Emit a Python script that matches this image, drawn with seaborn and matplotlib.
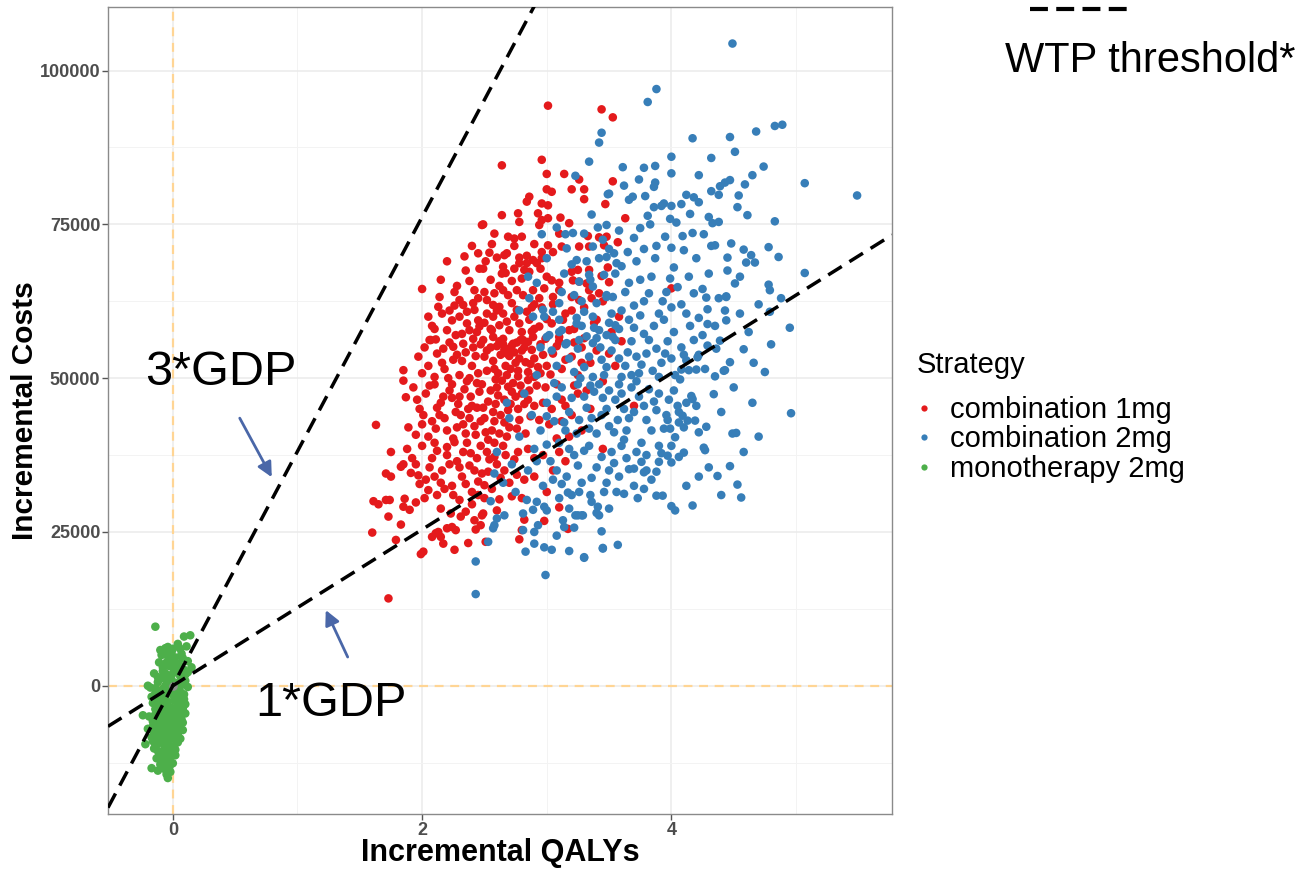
import matplotlib
matplotlib.use("Agg")
import matplotlib.pyplot as plt
import seaborn as sns
import pandas as pd
import numpy as np
from matplotlib.lines import Line2D

# ---------------- data (QALYs, incremental cost in thousands) ----------------
strategies = ["combination 1mg", "combination 2mg", "monotherapy 2mg"]
palette = ["#E41A1C", "#377EB8", "#4DAF4A"]

red_points = [
    (3.01,94.3),(3.44,93.7),(3.53,92.4),(2.64,84.6),(2.96,85.5),(3.0,83.2),(3.14,83.2),(3.53,82.0),
    (3.47,78.3),(3.63,76.0),(3.48,73.0),(3.57,72.1),(3.49,68.0),(3.44,66.6),(3.5,65.6),(4.0,64.6),
    (1.73,14.2),(1.63,42.4),(1.85,51.3),(1.85,49.6),(1.87,46.9),(1.75,38.0),(1.71,34.5),(1.75,34.0),
    (1.61,30.0),(1.65,29.5),(1.71,30.2),(1.74,30.2),(1.6,24.9),(1.73,27.5),(1.83,26.2),(1.79,23.7),
    (1.85,29.1),(1.9,28.6),(1.86,30.4),(1.83,35.6),(1.85,36.0),(1.91,34.6),(1.89,42.0),(1.99,21.4),
    (2.01,21.8),(2.26,22.1),(2.37,23.2),(2.51,23.4),(2.43,25.4),(2.42,26.9),(2.47,26.1),(2.49,28.0),
    (2.48,27.7),(2.78,23.8),(2.8,25.3),(2.82,27.0),(2.98,26.8),(2.08,24.2),(2.11,24.8),(2.15,24.2),
    (2.17,23.1),(2.13,25.0),(2.2,25.6),(2.24,25.8),(2.27,25.3),(2.31,27.5),(2.23,28.0),(3.17,25.5),
    (3.26,82.3),(3.2,80.7),(3.3,80.7),(3.0,80.7),(3.04,80.3),(2.86,79.5),(2.84,78.7),(2.96,78.4),
    (3.01,78.1),(3.3,79.1),(2.77,76.8),(2.93,76.8),(2.64,76.5),(2.96,75.7),(3.01,76.0),(3.11,76.1),
    (2.78,75.4),(2.49,75.0),(2.48,74.9),(2.58,73.5),(2.69,73.0),(2.74,72.7),(2.8,73.0),(2.74,71.5),
    (2.94,74.9),(3.18,75.2),(3.1,73.5),(3.01,71.6),(2.96,70.5),(3.05,70.5),(3.33,73.1),(3.42,72.9),
    (3.46,71.6),(3.34,71.4),(3.26,71.4),(3.12,71.4),(2.45,70.3),(2.54,70.4),(2.66,70.0),(2.68,70.3),
    (2.51,69.0),(2.6,69.6),(2.78,69.6),(2.84,69.9),(2.89,69.2),(2.96,69.5),(2.92,68.7),(2.84,68.7),
    (2.78,68.7),(2.74,67.8),(2.82,67.6),(2.86,67.3),(2.46,67.8),(2.49,67.8),(2.65,68.1),(2.67,67.1),
    (2.64,67.0),(3.04,65.9),(3.1,65.5),(3.2,67.3),(3.25,67.6),(3.34,67.6),(3.0,66.5),(2.98,64.6),
    (3.05,63.2),(3.1,64.3),(3.21,65.9),(3.26,65.7),(3.32,65.4),(3.34,64.3),(3.42,63.8),(3.26,62.7),
    (3.2,63.2),(2.42,64.3),(2.5,64.0),(2.58,63.8),(2.65,64.3),(2.69,63.5),(2.76,64.3),(2.81,63.5),
    (2.89,64.3),(2.94,63.0),(2.14,63.2),(2.13,61.6),(2.22,61.0),(2.07,56.2),(2.11,56.3),(2.3,62.7),
    (2.33,61.9),(2.42,61.1),(2.41,62.2),(2.52,62.7),(2.57,61.9),(2.62,61.6),(2.72,62.2),(2.76,61.1),
    (2.65,60.5),(2.57,60.0),(2.52,60.5),(2.45,59.4),(2.36,58.9),(2.3,60.0),(2.24,59.4),(2.2,57.8),
    (2.38,57.8),(2.46,58.4),(2.62,58.6),(2.7,57.8),(2.78,58.9),(2.86,59.5),(2.94,58.4),(3.04,58.9),
    (3.13,59.5),(3.18,57.8),(3.1,56.7),(2.99,56.4),(2.89,56.7),(2.81,56.2),(2.73,55.6),(2.65,56.4),
    (2.57,56.7),(2.49,56.2),(2.41,56.4),(2.33,55.6),(2.25,55.1),(2.17,54.8),(2.06,56.2),
    (1.97,53.5),(2.05,52.0),(2.12,54.0),(2.18,51.5),(2.25,53.0),(2.3,50.5),(2.35,54.2),(2.4,52.0),
    (2.45,50.8),(2.5,53.5),(2.55,55.0),(2.58,51.5),(2.63,53.8),(2.68,50.5),(2.72,55.3),(2.75,52.5),
    (2.8,54.5),(2.85,51.0),(2.9,53.2),(2.95,55.5),(3.0,52.0),(3.05,54.0),(3.12,51.5),(3.2,53.5),
    (3.28,55.0),(3.35,52.5),(2.62,56.0),(2.7,54.8),(2.76,55.8),(2.68,54.0),(2.85,55.9),(2.78,53.2),
    (2.57,52.8),(2.9,50.2),(2.22,55.8),(2.47,55.5),(2.1,50.2),(2.0,50.8),(2.6,55.2),(2.65,55.5),
    (2.74,54.2),(2.82,55.0),(2.88,54.6),(2.7,53.6),(2.66,54.6),(2.79,56.2),
    (1.93,48.5),(1.98,45.0),(2.03,47.5),(2.08,43.0),(2.1,49.0),(2.15,46.0),(2.2,41.5),(2.22,48.0),
    (2.27,44.5),(2.3,47.0),(2.33,42.5),(2.36,49.5),(2.4,45.5),(2.43,40.8),(2.46,47.8),(2.5,43.5),
    (2.53,46.2),(2.56,41.5),(2.6,48.5),(2.63,44.0),(2.66,46.5),(2.7,42.0),(2.73,49.2),(2.77,45.0),
    (2.8,47.5),(2.83,41.0),(2.87,43.8),(2.92,48.8),(2.97,46.0),(3.02,42.5),(3.08,49.0),(3.15,45.5),
    (3.25,47.5),(2.05,40.5),(2.14,44.0),(2.25,40.2),(2.38,43.5),(2.48,49.0),(2.58,43.0),(2.68,40.5),
    (2.75,47.0),(2.9,45.5),(2.0,42.5),(2.17,47.0),(2.29,45.8),(2.53,40.0),(2.85,49.7),(1.95,40.8),
    (1.88,38.5),(1.95,36.0),(2.0,39.0),(2.03,33.5),(2.08,37.0),(2.12,31.0),(2.16,35.0),(2.2,38.8),
    (2.24,32.5),(2.28,36.5),(2.32,34.0),(2.36,39.5),(2.4,31.5),(2.44,37.0),(2.48,34.5),(2.52,38.0),
    (2.56,32.0),(2.6,36.0),(2.65,39.0),(2.7,33.0),(2.74,36.8),(2.8,30.5),(2.85,38.5),(2.9,34.0),
    (2.97,37.5),(2.02,30.5),(2.1,34.0),(2.3,30.2),(2.45,31.0),(2.62,30.3),(2.18,32.0),(1.98,32.8),
    (3.05,62.0),(3.15,60.5),(3.22,58.0),(3.3,61.5),(3.38,59.0),(3.45,62.5),(3.52,57.5),(3.1,56.0),
    (3.25,50.5),(3.32,48.0),(3.4,54.5),(3.55,52.0),(3.2,44.0),(3.28,41.5),(3.1,38.0),(3.05,35.0),
    (3.18,40.5),(3.35,45.0),(3.45,49.5),(3.6,56.0),(3.58,60.0),(3.7,45.5),(3.45,38.5),
    (2.15,66.0),(2.28,65.0),(2.35,67.5),(2.55,66.0),(2.72,65.8),(2.9,62.0),(2.05,60.0),(2.0,64.5),
    (2.2,69.0),(2.4,71.5),(2.95,67.8),
    (2.02,55.0),(2.08,58.5),(2.16,52.5),(2.21,50.0),(2.27,57.0),(2.32,52.8),(2.38,50.0),(2.43,53.6),
    (2.52,51.2),(2.56,57.8),(2.61,50.8),(2.67,52.0),(2.71,51.5),(2.77,50.3),(2.83,52.6),(2.88,57.6),
    (2.93,51.8),(2.97,53.8),(3.03,50.6),(3.08,55.2),(3.15,53.0),(3.22,55.8),
    (1.96,46.5),(2.01,44.0),(2.06,48.8),(2.11,41.8),(2.18,43.5),(2.24,46.8),(2.28,42.0),(2.34,48.2),
    (2.37,45.0),(2.42,42.2),(2.44,49.2),(2.49,45.2),(2.55,48.0),(2.59,45.8),(2.62,41.0),(2.64,49.6),
    (2.69,44.8),(2.72,47.8),(2.78,43.2),(2.82,45.8),(2.86,48.0),(2.94,43.2),(2.99,48.5),(3.04,45.0),
    (3.12,43.0),(2.12,45.2),(2.35,41.0),(2.47,43.0),
    (1.92,37.0),(1.97,34.2),(2.06,35.5),(2.12,38.2),(2.15,33.0),(2.22,36.0),(2.26,39.6),(2.3,35.5),
    (2.35,32.8),(2.39,37.8),(2.42,35.0),(2.47,39.0),(2.5,32.6),(2.54,36.8),(2.58,39.5),(2.63,33.8),
    (2.67,37.5),(2.72,30.8),(2.77,38.0),(2.82,33.5),(2.05,31.8),(2.25,31.0),(2.4,29.5),(2.6,28.5),
    (2.15,28.8),(2.35,28.3),(1.95,29.8),(2.5,30.5),
    (2.1,58.0),(2.16,60.5),(2.26,61.8),(2.32,57.2),(2.36,60.8),(2.44,57.5),(2.5,59.0),(2.55,58.0),
    (2.6,61.0),(2.68,59.2),(2.74,60.0),(2.8,57.5),(2.84,60.8),(2.9,58.0),(2.96,61.5),(3.0,59.6),
    (2.26,64.0),(2.38,65.8),(2.45,63.0),(2.62,65.0),(2.8,66.2),(2.88,61.5),(2.34,69.8),(2.56,71.8),
    (2.9,71.8),
    (3.2,61.0),(3.3,56.5),(3.36,63.0),(3.12,46.5),(3.22,48.8),(3.08,40.2),(3.15,36.5),(3.0,31.5),
    (3.1,29.0),(3.4,59.5),(3.5,54.0),(3.28,52.5),
    (2.24,49.0),(2.31,44.0),(2.39,47.0),(2.44,45.2),(2.51,41.2),(2.57,44.5),(2.61,47.2),(2.66,42.8),
    (2.71,45.8),(2.76,41.8),(2.79,48.8),(2.85,46.5),(2.33,38.0),(2.38,35.8),(2.45,33.2),(2.53,34.8),
    (2.58,37.2),(2.66,35.0),(2.76,34.3),(2.9,37.0),(2.28,53.8),(2.41,55.0),(2.52,54.5),(2.59,49.8),
    (2.69,48.6),(2.77,51.2),(2.87,52.3),(2.95,50.8),(2.2,37.5),(2.1,39.5),
]

blue_points = [
    (4.49,104.4),(3.88,97.0),(3.81,94.9),(4.83,91.0),(4.89,91.2),(4.68,90.1),(4.47,89.2),(4.17,89.0),
    (4.51,86.8),(4.32,85.8),(4.0,86.0),(5.07,81.7),(5.49,79.7),(4.74,84.4),(4.65,83.0),(4.59,81.5),
    (4.47,82.2),(4.43,81.8),(4.39,81.2),(4.22,83.0),(3.87,84.5),(3.78,84.2),(3.61,84.3),(3.74,82.3),
    (3.62,81.3),(3.87,81.8),(3.86,81.1),(4.0,83.3),(4.32,80.4),(4.38,79.8),(4.54,79.7),(4.53,77.8),
    (4.61,76.5),(4.83,75.5),(4.12,79.8),(4.18,79.4),(4.22,78.6),(4.08,78.3),(4.15,76.7),(3.92,78.0),
    (3.94,78.4),(3.86,77.8),(4.0,78.0),(3.99,75.9),(4.04,75.3),(3.79,79.6),(3.69,79.5),(3.66,79.0),
    (3.5,80.0),(3.81,76.4),(3.83,75.0),(3.75,74.4),(4.3,76.2),(4.33,75.2),(4.38,75.4),(4.17,73.6),
    (4.26,73.4),(4.09,73.1),(4.48,71.9),(4.35,71.6),(4.32,71.5),(4.58,70.9),(4.64,70.0),(4.78,71.3),
    (4.6,68.8),(4.67,68.8),(4.45,69.6),(4.86,69.7),(5.07,67.1),(4.78,65.2),(4.79,64.3),(4.51,65.4),
    (4.44,63.3),(4.38,63.0),
    (4.95,58.2),(4.96,44.3),(4.75,51.0),(4.58,54.7),(4.79,60.8),(4.56,30.6),(4.53,32.7),(4.47,35.7),
    (4.37,34.1),(4.49,41.0),(4.52,41.1),(4.17,29.3),(4.03,28.5),(4.0,29.2),(4.27,38.3),(4.26,38.7),
    (4.22,41.2),(4.28,42.1),(4.34,47.4),(3.93,30.9),(3.88,30.9),(3.73,30.5),(3.62,31.2),(3.57,22.9),
    (3.45,22.4),(3.30,20.9),(3.18,21.9),(3.44,25.1),(3.22,25.7),(3.14,25.8),(3.42,27.7),(3.4,28.1),
    (3.28,27.7),(3.23,27.7),(3.8,35.0),(3.78,34.7),(3.76,36.4),(3.7,35.3),(3.9,36.4),(4.0,36.3),
    (3.97,37.4),(4.06,37.2),(4.1,37.9),(3.9,39.0),(4.0,39.0),(4.03,40.4),(3.99,41.8),(3.97,43.2),
    (4.13,43.1),(4.19,43.1),(4.09,43.9),(4.06,44.5),(4.05,45.5),(4.16,47.1),(4.17,46.6),(4.07,49.8),
    (4.21,53.4),(4.22,53.8),(4.27,51.5),(4.29,55.3),(4.36,54.8),(4.39,56.1),(4.43,51.3),(4.47,52.6),
    (4.42,51.2),(4.35,50.3),(4.44,59.4),(4.43,61.0),(4.29,61.2),(4.28,63.1),(4.44,63.2),(4.29,58.8),
    (4.12,52.9),(4.14,51.3),(4.2,51.4),(4.08,51.4),
    (2.43,14.9),(2.43,20.2),(2.99,18.0),(2.83,21.8),(2.9,23.1),(2.98,22.5),(3.04,22.1),(3.3,20.8),
    (3.45,22.3),(3.08,24.4),(2.53,23.4),(2.57,25.6),(2.58,26.1),(2.66,27.7),(2.6,27.2),(2.81,25.3),
    (2.9,25.0),(2.93,26.1),(2.81,28.0),(2.89,28.6),(2.92,29.9),(2.84,30.2),(3.25,27.7),(3.29,27.7),
    (3.13,26.9),(2.98,29.1),(3.1,30.5),(3.17,31.4),(3.26,31.5),(3.36,29.9),(3.41,29.1),
    (3.12,64.0),(3.2,68.5),(3.28,62.5),(3.35,66.0),(3.42,69.5),(3.48,63.5),(3.55,67.0),(3.6,61.0),
    (3.66,65.5),(3.72,69.0),(3.78,62.5),(3.84,66.5),(3.9,60.5),(3.96,64.0),(4.02,68.0),(4.08,62.0),
    (4.14,66.5),(4.2,69.5),(4.25,64.5),(3.52,60.5),(3.75,60.2),(4.0,61.5),(3.3,60.8),(3.65,70.5),
    (3.88,71.5),(3.45,72.5),(4.1,70.8),(3.58,74.0),(3.95,73.0),(3.3,73.5),(3.7,72.8),
    (3.02,57.0),(3.08,52.0),(3.15,55.5),(3.22,51.0),(3.28,58.5),(3.34,53.5),(3.4,56.5),(3.46,50.5),
    (3.52,54.5),(3.58,58.0),(3.63,52.0),(3.68,56.0),(3.74,50.8),(3.8,54.0),(3.86,58.5),(3.92,52.5),
    (3.97,56.0),(4.03,50.5),(4.08,55.0),(4.15,58.5),(3.25,54.8),(3.5,59.0),(3.72,53.5),(3.94,59.5),
    (3.6,50.2),(3.37,50.2),(3.85,51.2),(4.25,57.0),(3.44,53.0),(3.66,59.5),(3.1,59.5),(3.55,56.2),
    (3.78,57.2),(4.0,53.2),
    (2.95,41.5),(3.0,46.0),(3.06,43.0),(3.12,48.5),(3.18,44.5),(3.24,41.0),(3.3,47.0),(3.36,43.5),
    (3.42,49.0),(3.48,45.0),(3.54,41.2),(3.6,47.5),(3.66,43.5),(3.72,49.5),(3.78,45.5),(3.84,41.5),
    (3.9,47.5),(3.96,44.0),(4.02,48.0),(4.1,42.0),(4.2,45.5),(3.27,50.0),(3.5,48.0),(3.74,47.0),
    (3.88,44.8),(3.4,41.0),(3.62,45.0),(3.15,41.5),(3.57,43.2),(3.32,45.2),(3.06,49.2),
    (2.85,35.0),(2.9,38.5),(2.97,32.5),(3.03,36.5),(3.1,39.5),(3.16,34.0),(3.22,37.5),(3.28,33.0),
    (3.34,39.0),(3.4,35.5),(3.46,31.5),(3.52,38.0),(3.58,34.0),(3.64,37.0),(3.7,32.5),(3.76,39.5),
    (3.84,33.5),(3.92,37.8),(3.5,35.0),(3.2,31.0),(3.05,33.5),(3.62,40.0),
    (2.65,33.0),(2.72,36.0),(2.78,40.5),(2.7,43.5),(2.6,38.0),(2.55,30.0),(2.75,31.5),(2.88,44.0),
    (2.82,47.5),(2.92,50.5),(2.95,55.0),(2.98,60.0),(2.86,63.0),(2.78,61.0),(2.92,65.5),(3.0,69.5),
    (2.58,34.5),(2.68,46.0),
    (3.44,89.9),(3.42,88.3),(3.34,85.2),(3.23,82.9),(3.49,79.9),(3.36,76.6),(3.41,74.5),(3.48,74.9),
    (3.08,74.5),(2.96,73.4),(3.15,73.4),(3.21,73.6),(3.16,71.1),(3.24,69.2),(3.37,71.4),(3.48,69.7),
    (3.54,70.3),(3.56,68.7),(2.85,66.5),(3.26,65.7),(3.34,66.8),(3.37,64.9),(3.48,63.2),(3.1,62.2),
    (2.97,61.1),(2.89,60.0),(3.0,56.7),(3.1,57.5),(3.24,58.9),(3.37,60.0),(3.42,57.8),(3.53,56.7),
    (3.16,55.7),(3.26,56.2),(3.37,55.7),
    (4.55,66.5),(4.7,62.0),(4.62,57.5),(4.5,48.5),(4.65,46.0),(4.8,55.5),(4.4,44.5),(4.58,38.0),
    (4.7,40.5),(4.45,67.5),(4.35,58.5),(4.55,60.5),(4.88,63.0),(4.66,52.5),(4.3,35.5),(4.12,32.5),
    (4.22,34.0),(4.4,31.0),
    (3.05,60.8),(3.14,67.0),(3.22,63.5),(3.32,69.0),(3.4,62.2),(3.46,66.8),(3.53,63.2),(3.6,68.2),
    (3.63,64.0),(3.7,61.8),(3.75,66.0),(3.82,63.8),(3.87,69.5),(3.93,62.5),(3.99,66.2),(4.05,64.8),
    (4.12,60.5),(4.18,63.8),(4.3,67.0),(3.78,71.0),(4.0,71.2),(3.5,71.0),
    (3.04,54.5),(3.12,57.8),(3.18,53.2),(3.3,51.8),(3.32,56.8),(3.38,58.2),(3.43,55.0),(3.48,51.8),
    (3.55,58.6),(3.58,53.2),(3.65,54.2),(3.7,58.2),(3.76,52.2),(3.82,56.2),(3.88,54.8),(3.9,50.2),
    (3.95,54.0),(4.02,57.5),(4.1,53.8),(4.18,56.2),(4.22,59.8),(3.68,50.5),(3.48,57.0),(3.24,59.8),
    (3.0,43.8),(3.08,47.0),(3.14,42.8),(3.2,46.8),(3.26,43.2),(3.34,41.8),(3.38,47.8),(3.44,44.0),
    (3.5,42.2),(3.55,46.5),(3.64,41.5),(3.68,48.5),(3.7,44.5),(3.8,43.2),(3.82,48.2),(3.86,46.2),
    (3.94,41.8),(3.98,46.5),(4.06,42.8),(4.12,46.0),(3.45,46.8),(3.25,49.0),(3.58,49.0),(3.35,48.8),
    (2.92,36.5),(3.0,39.2),(3.08,35.0),(3.12,32.8),(3.18,38.5),(3.25,35.8),(3.3,38.2),(3.36,33.8),
    (3.44,37.2),(3.48,33.0),(3.54,36.2),(3.6,39.0),(3.66,35.2),(3.72,38.0),(3.8,37.5),(3.88,34.8),
    (3.56,31.5),(3.35,31.0),(3.78,32.0),(3.0,28.5),(3.18,28.8),(3.5,28.8),
]

green_points = [
    (-0.14,9.6),(0.09,8.0),(0.14,8.2),(-0.06,6.1),(-0.04,6.3),(-0.01,5.5),(0.04,6.8),(0.07,5.2),
    (0.11,6.4),(-0.09,5.0),(0.02,4.6),(-0.11,3.8),(0.12,4.0),(0.05,3.5),(-0.03,3.2),(0.09,2.6),
    (-0.08,2.4),(0.15,3.0),(-0.15,2.0),(0.0,2.0),(0.06,1.5),(-0.05,1.0),(0.1,0.8),(-0.12,0.6),
    (0.03,0.4),(-0.2,0.0),(-0.18,-0.3),(0.12,-0.2),(-0.08,-0.5),(0.06,-1.0),(-0.14,-1.2),(0.0,-1.5),
    (-0.1,-2.0),(0.09,-2.2),(-0.04,-2.6),(-0.16,-2.8),(0.04,-3.2),(-0.11,-3.5),(0.08,-3.8),(-0.02,-4.0),
    (-0.24,-4.8),(-0.13,-4.5),(0.05,-4.8),(-0.07,-5.2),(0.02,-5.6),(-0.16,-5.8),(-0.1,-6.2),(0.06,-6.3),
    (-0.03,-6.8),(-0.14,-7.2),(0.03,-7.4),(-0.08,-7.8),(-0.17,-8.4),(0.0,-8.5),(-0.11,-9.0),(0.04,-9.2),
    (-0.05,-9.6),(-0.15,-10.2),(-0.02,-10.5),(-0.09,-11.0),(0.02,-11.3),(-0.13,-11.8),(-0.05,-12.2),
    (-0.1,-12.8),(0.0,-12.6),(-0.17,-13.4),(-0.07,-13.5),(-0.04,-15.0),(-0.02,-14.0),
    (-0.06,0.0),(0.01,-0.8),(-0.03,1.5),(0.05,-2.0),(-0.07,-3.0),(-0.01,-3.6),(-0.09,-4.2),(0.0,-5.0),
    (-0.05,-6.0),(-0.12,-6.6),(-0.02,-7.0),(-0.06,-8.2),(-0.1,-8.8),(-0.04,-10.0),(-0.08,-10.6),
    (-0.03,-11.8),(0.08,0.2),(-0.1,-0.9),(0.03,2.8),(-0.05,3.8),(0.07,-5.5),(-0.13,-9.5),(0.01,-9.8),
    (-0.07,-1.8),(0.1,-3.0),(-0.15,-7.6),(0.03,-6.6),
    (-0.1,5.8),(0.0,6.0),(0.08,4.5),(-0.02,4.2),(-0.08,3.0),(0.04,2.2),(-0.12,1.4),(0.1,1.8),
    (-0.02,0.8),(0.05,0.0),(-0.14,-0.4),(-0.03,-0.3),(0.09,-1.4),(-0.05,-1.3),(-0.12,-2.4),(0.01,-2.4),
    (0.07,-3.0),(-0.05,-3.4),(-0.14,-3.8),(0.03,-4.2),(-0.09,-4.9),(-0.03,-5.4),(0.05,-5.9),(-0.12,-5.4),
    (-0.08,-6.8),(0.01,-6.2),(-0.05,-7.4),(-0.11,-7.6),(0.0,-7.9),(-0.13,-8.2),(-0.03,-8.9),(-0.08,-9.4),
    (0.02,-10.4),(-0.12,-10.6),(-0.06,-11.4),(-0.1,-12.0),(-0.02,-12.8),(-0.08,-13.0),(-0.12,-13.8),
    (-0.05,-14.4),(0.04,-1.7),(-0.17,-1.8),(-0.19,-5.0),(-0.2,-7.0),(0.08,-7.2),(0.06,-8.6),(0.1,-4.5),
    (-0.1,-3.0),(-0.06,2.0),(0.02,3.6),(0.12,2.2),(-0.16,-9.0),(-0.22,-9.5),
    (-0.09,-1.0),(0.02,-1.9),(-0.06,-2.2),(0.06,-2.7),(-0.12,-3.2),(-0.01,-4.6),(-0.07,-4.6),(0.04,-5.2),
    (-0.15,-4.9),(-0.06,-5.7),(0.0,-6.6),(-0.09,-7.2),(0.04,-8.0),(-0.02,-8.3),(-0.09,-8.5),(-0.14,-9.9),
    (-0.06,-9.9),(-0.01,-11.0),(-0.11,-11.3),(-0.07,-12.5),(-0.03,-13.3),(0.05,-0.5),(-0.01,1.0),
    (0.07,2.8),(-0.09,1.2),(0.0,3.0),(-0.05,5.0),(0.06,6.0),(-0.16,-6.6),(0.08,-6.0),
]

wtp_1gdp = 12700          # cost per QALY, 1*GDP
wtp_3gdp = 3 * wtp_1gdp   # 3*GDP
x_ticks = [0, 2, 4]
y_ticks = [0, 25000, 50000, 75000, 100000]
x_minor = [1, 3, 5]
y_minor = [-12500, 12500, 37500, 62500, 87500]

# ---------------- frame ----------------
rows = []
for name, pts in zip(strategies, [red_points, blue_points, green_points]):
    for q, c in pts:
        rows.append((name, q, c * 1000))
df = pd.DataFrame(rows, columns=["Strategy", "QALY", "Cost"])

sns.set_theme(style="white")
plt.rcParams['font.family'] = ['Liberation Sans', 'DejaVu Sans']
plt.rcParams['text.color'] = 'black'
plt.rcParams['axes.labelcolor'] = 'black'

W, H = 1304, 869
fig = plt.figure(figsize=(W / 100, H / 100), dpi=100)
ax = fig.add_axes([108 / W, 1 - 814 / H, 784 / W, 807 / H])

XLIM = (-0.52, 5.77)
YLIM = (-20850, 110340)

ax.set_xticks(x_ticks)
ax.set_yticks(y_ticks)
ax.set_xticks(x_minor, minor=True)
ax.set_yticks(y_minor, minor=True)
ax.grid(which='major', color='#EBEBEB', lw=1.1)
ax.grid(which='minor', color='#F3F3F3', lw=0.7)
ax.set_axisbelow(True)

orange = '#FFD594'
ax.axhline(0, color=orange, lw=1.6, dashes=(4, 3), zorder=1.2)
ax.axvline(0, color=orange, lw=1.6, dashes=(4, 3), zorder=1.2)

sns.scatterplot(data=df, x="QALY", y="Cost", hue="Strategy", hue_order=strategies,
                palette=palette, s=38, linewidth=0, ax=ax, zorder=2, legend=False)
ax.scatter([0], [0], color='#8E8E8E', s=38, linewidth=0, zorder=3)

xs = np.array(XLIM)
ax.plot(xs, wtp_3gdp * xs, color='black', lw=2.5, dashes=(4.6, 2.6), zorder=4)
ax.plot(xs, wtp_1gdp * xs, color='black', lw=2.5, dashes=(4.6, 2.6), zorder=4)

ax.set_xlim(*XLIM)
ax.set_ylim(*YLIM)

for sp in ax.spines.values():
    sp.set_color('#8A8A8A')
    sp.set_linewidth(1.0)

ax.tick_params(which='major', bottom=True, left=True, length=4, width=1, color='#555555',
               labelsize=13, labelcolor='#4D4D4D', direction='out', pad=1.5)
ax.tick_params(which='minor', length=0)
ax.set_xticklabels([str(v) for v in x_ticks])
ax.set_yticklabels([str(v) for v in y_ticks])
for lbl in ax.get_xticklabels() + ax.get_yticklabels():
    lbl.set_fontweight('bold')

ax.set_xlabel("Incremental QALYs", fontsize=22, fontweight='bold', color='black')
ax.set_ylabel("Incremental Costs", fontsize=21.5, fontweight='bold', color='black')
ax.xaxis.set_label_coords(0.5, -0.03)
ax.yaxis.set_label_coords(-0.088, 0.5)

# annotations
ax.text(-0.225, 48900, "3*GDP", fontsize=35, va='baseline', ha='left', color='black', zorder=5)
ax.text(0.658, -4930, "1*GDP", fontsize=35, va='baseline', ha='left', color='black', zorder=5)
arrow_c = '#4A67A8'
ax.annotate("", xy=(0.794, 33900), xytext=(0.537, 43500),
            arrowprops=dict(arrowstyle='-|>', color=arrow_c, lw=2, mutation_scale=22,
                            shrinkA=0, shrinkB=0), zorder=5)
ax.annotate("", xy=(1.227, 12300), xytext=(1.403, 4670),
            arrowprops=dict(arrowstyle='-|>', color=arrow_c, lw=2, mutation_scale=22,
                            shrinkA=0, shrinkB=0), zorder=5)

# WTP key at top right
fig.add_artist(Line2D([1030 / W, 1130 / W], [1 - 9 / H, 1 - 9 / H], transform=fig.transFigure,
                      color='black', lw=3, dashes=(4.3, 2.0)))
fig.text(1005 / W, 1 - 72 / H, "WTP threshold*", fontsize=30, va='baseline', ha='left',
         color='black')

# legend
fig.text(917 / W, 1 - 373 / H, "Strategy", fontsize=21, va='baseline', ha='left', color='black')
handles = [Line2D([0], [0], marker='o', ls='', color=c, markersize=4.5, markeredgewidth=0)
           for c in palette]
leg = ax.legend(handles, strategies, loc='upper left',
                bbox_to_anchor=(915 / W, 1 - 396 / H), bbox_transform=fig.transFigure,
                frameon=False, fontsize=21, handlelength=0.6, handletextpad=0.6,
                labelspacing=0.05, borderpad=0, borderaxespad=0)
for t in leg.get_texts():
    t.set_color('black')

fig.savefig("out.png", dpi=100)
